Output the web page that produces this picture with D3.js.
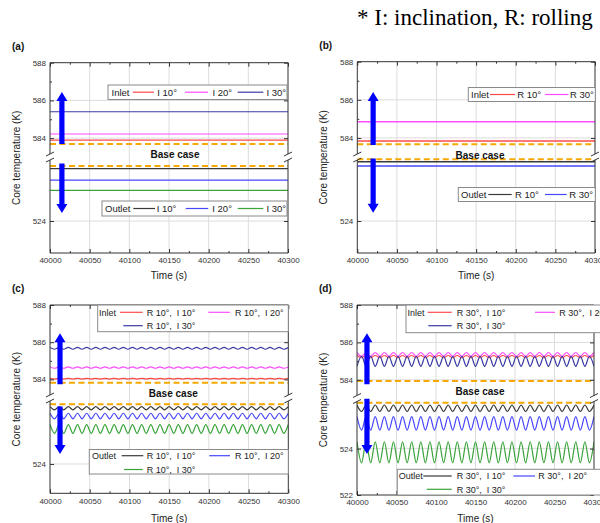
<!DOCTYPE html>
<html><head><meta charset="utf-8">
<script src="https://cdn.jsdelivr.net/npm/d3@7/dist/d3.min.js"></script>
<style>
body{margin:0;background:#fff;overflow:hidden}
svg{display:block}
text{font-family:"Liberation Sans",Arial,sans-serif}
</style>
</head><body>
<svg id="chart" width="600" height="523"></svg>
<script>
// ---------------- data ----------------
const timeDomain = [40000, 40300];
const timeTicks = [40000, 40050, 40100, 40150, 40200, 40250, 40300];
const timeMinor = [40025, 40075, 40125, 40175, 40225, 40275];
const topTicks = [584, 586, 588];
const topMinor = [583, 585, 587];
const botTicksABC = [524];
const botTicksD = [522, 524];
const timeEnds = [40000, 40300];

// times of successive peaks / troughs of the oscillations (s)
const tExt = [40000,40005.77,40011.54,40017.31,40023.08,40028.85,40034.62,40040.38,40046.15,40051.92,40057.69,40063.46,40069.23,40075,40080.77,40086.54,40092.31,40098.08,40103.85,40109.62,40115.38,40121.15,40126.92,40132.69,40138.46,40144.23,40150,40155.77,40161.54,40167.31,40173.08,40178.85,40184.62,40190.38,40196.15,40201.92,40207.69,40213.46,40219.23,40225,40230.77,40236.54,40242.31,40248.08,40253.85,40259.62,40265.38,40271.15,40276.92,40282.69,40288.46,40294.23,40300];

// (a) inclination only
const aLabels = ["I 10°", "I 20°", "I 30°"];
const aBase = [583.69, 527.44];
const aInlet = [583.90, 584.22, 585.40];
const aOutlet = [527.27, 526.56, 525.92];
// (b) rolling only
const bLabels = ["R 10°", "R 30°"];
const bBase = [583.67, 527.86];
const bInlet = [583.84, 584.85];
const bOutlet = [527.71, 527.44];
// (c) rolling 10° + inclination
const cLabels = ["R 10°,  I 10°", "R 10°,  I 20°", "R 10°,  I 30°"];
const cBase = [583.82, 528.07];
const cInR10I10 = [584.06,584.02,584.06,584.02,584.06,584.02,584.06,584.02,584.06,584.02,584.06,584.02,584.06,584.02,584.06,584.02,584.06,584.02,584.06,584.02,584.06,584.02,584.06,584.02,584.06,584.02,
584.06,584.02,584.06,584.02,584.06,584.02,584.06,584.02,584.06,584.02,584.06,584.02,584.06,584.02,584.06,584.02,584.06,584.02,584.06,584.02,584.06,584.02,584.06,584.02,584.06,584.02,584.06];
const cInR10I20 = [584.67,584.60,584.67,584.60,584.67,584.60,584.67,584.60,584.67,584.60,584.67,584.60,584.67,584.60,584.67,584.60,584.67,584.60,584.67,584.60,584.67,584.60,584.67,584.60,584.67,584.60,
584.67,584.60,584.67,584.60,584.67,584.60,584.67,584.60,584.67,584.60,584.67,584.60,584.67,584.60,584.67,584.60,584.67,584.60,584.67,584.60,584.67,584.60,584.67,584.60,584.67,584.60,584.67];
const cInR10I30 = [585.72,585.62,585.72,585.62,585.72,585.62,585.72,585.62,585.72,585.62,585.72,585.62,585.72,585.62,585.72,585.62,585.72,585.62,585.72,585.62,585.72,585.62,585.72,585.62,585.72,585.62,
585.72,585.62,585.72,585.62,585.72,585.62,585.72,585.62,585.72,585.62,585.72,585.62,585.72,585.62,585.72,585.62,585.72,585.62,585.72,585.62,585.72,585.62,585.72,585.62,585.72,585.62,585.72];
const cOutR10I10 = [527.91,527.69,527.91,527.69,527.91,527.69,527.91,527.69,527.91,527.69,527.91,527.69,527.91,527.69,527.91,527.69,527.91,527.69,527.91,527.69,527.91,527.69,527.91,527.69,527.91,527.69,
527.91,527.69,527.91,527.69,527.91,527.69,527.91,527.69,527.91,527.69,527.91,527.69,527.91,527.69,527.91,527.69,527.91,527.69,527.91,527.69,527.91,527.69,527.91,527.69,527.91,527.69,527.91];
const cOutR10I20 = [527.46,527.08,527.46,527.08,527.46,527.08,527.46,527.08,527.46,527.08,527.46,527.08,527.46,527.08,527.46,527.08,527.46,527.08,527.46,527.08,527.46,527.08,527.46,527.08,527.46,527.08,
527.46,527.08,527.46,527.08,527.46,527.08,527.46,527.08,527.46,527.08,527.46,527.08,527.46,527.08,527.46,527.08,527.46,527.08,527.46,527.08,527.46,527.08,527.46,527.08,527.46,527.08,527.46];
const cOutR10I30 = [526.69,526.09,526.69,526.09,526.69,526.09,526.69,526.09,526.69,526.09,526.69,526.09,526.69,526.09,526.69,526.09,526.69,526.09,526.69,526.09,526.69,526.09,526.69,526.09,526.69,526.09,
526.69,526.09,526.69,526.09,526.69,526.09,526.69,526.09,526.69,526.09,526.69,526.09,526.69,526.09,526.69,526.09,526.69,526.09,526.69,526.09,526.69,526.09,526.69,526.09,526.69,526.09,526.69];
// (d) rolling 30° + inclination
const dLabels = ["R 30°,  I 10°", "R 30°,  I 20°", "R 30°,  I 30°"];
const dBase = [583.94, 525.98];
const dInR30I10 = [585.30,585.18,585.30,585.18,585.30,585.18,585.30,585.18,585.30,585.18,585.30,585.18,585.30,585.18,585.30,585.18,585.30,585.18,585.30,585.18,585.30,585.18,585.30,585.18,585.30,585.18,
585.30,585.18,585.30,585.18,585.30,585.18,585.30,585.18,585.30,585.18,585.30,585.18,585.30,585.18,585.30,585.18,585.30,585.18,585.30,585.18,585.30,585.18,585.30,585.18,585.30,585.18,585.30];
const dInR30I20 = [585.46,585.26,585.46,585.26,585.46,585.26,585.46,585.26,585.46,585.26,585.46,585.26,585.46,585.26,585.46,585.26,585.46,585.26,585.46,585.26,585.46,585.26,585.46,585.26,585.46,585.26,
585.46,585.26,585.46,585.26,585.46,585.26,585.46,585.26,585.46,585.26,585.46,585.26,585.46,585.26,585.46,585.26,585.46,585.26,585.46,585.26,585.46,585.26,585.46,585.26,585.46,585.26,585.46];
const dInR30I30 = [584.72,585.26,584.72,585.26,584.72,585.26,584.72,585.26,584.72,585.26,584.72,585.26,584.72,585.26,584.72,585.26,584.72,585.26,584.72,585.26,584.72,585.26,584.72,585.26,584.72,585.26,
584.72,585.26,584.72,585.26,584.72,585.26,584.72,585.26,584.72,585.26,584.72,585.26,584.72,585.26,584.72,585.26,584.72,585.26,584.72,585.26,584.72,585.26,584.72,585.26,584.72,585.26,584.72];
const dOutR30I10 = [525.88,525.60,525.88,525.60,525.88,525.60,525.88,525.60,525.88,525.60,525.88,525.60,525.88,525.60,525.88,525.60,525.88,525.60,525.88,525.60,525.88,525.60,525.88,525.60,525.88,525.60,
525.88,525.60,525.88,525.60,525.88,525.60,525.88,525.60,525.88,525.60,525.88,525.60,525.88,525.60,525.88,525.60,525.88,525.60,525.88,525.60,525.88,525.60,525.88,525.60,525.88,525.60,525.88];
const dOutR30I20 = [525.38,524.80,525.38,524.80,525.38,524.80,525.38,524.80,525.38,524.80,525.38,524.80,525.38,524.80,525.38,524.80,525.38,524.80,525.38,524.80,525.38,524.80,525.38,524.80,525.38,524.80,
525.38,524.80,525.38,524.80,525.38,524.80,525.38,524.80,525.38,524.80,525.38,524.80,525.38,524.80,525.38,524.80,525.38,524.80,525.38,524.80,525.38,524.80,525.38,524.80,525.38,524.80,525.38];
const dOutR30I30 = [524.29,523.39,524.29,523.39,524.29,523.39,524.29,523.39,524.29,523.39,524.29,523.39,524.29,523.39,524.29,523.39,524.29,523.39,524.29,523.39,524.29,523.39,524.29,523.39,524.29,523.39,
524.29,523.39,524.29,523.39,524.29,523.39,524.29,523.39,524.29,523.39,524.29,523.39,524.29,523.39,524.29,523.39,524.29,523.39,524.29,523.39,524.29,523.39,524.29,523.39,524.29,523.39,524.29];

// arrows: [time, from, to] for the inlet (up) and outlet (down) arrows
const aArrows = [[40015, 583.69, 586.45], [40015, 527.6, 524.5]];
const bArrows = [[40020, 583.63, 586.41], [40020, 527.9, 524.52]];
const cArrows = [[40012.6, 583.74, 586.48], [40012.6, 527.92, 524.68]];
const dArrows = [[40012.6, 583.76, 586.49], [40012.6, 526.15, 523.77]];

// ---------------- styles ----------------
const COL = {red:"#ff4a4a", magenta:"#ff4dff", navy:"#3a3aa6", black:"#3a3a3a", blue:"#4646ff", green:"#3aa33a", base:"#f5a800", arrow:"#0000ff"};
const inColors = [COL.red, COL.magenta, COL.navy];
const outColors = [COL.black, COL.blue, COL.green];
const FONT = "'Liberation Sans',Arial,sans-serif";

const svg = d3.select("#chart");

svg.append("text").attr("x", 357).attr("y", 25)
  .style("font-family", "'Liberation Serif','Times New Roman',serif").style("font-size", "23px")
  .attr("fill", "#000").text("* I: inclination, R: rolling");

function flat(v) { return timeEnds.map(t => [t, v]); }
function wave(vals) { return d3.zip(tExt, vals); }

function drawPanel(p) {
  const g = svg.append("g");
  const x = d3.scaleLinear().domain(timeDomain).range([p.left, p.right]);
  const yT = d3.scaleLinear().domain(p.topDom).range([p.brk, p.top]);
  const yB = d3.scaleLinear().domain(p.botDom).range([p.bottom, p.brk]);

  // grid
  const grid = g.append("g").attr("stroke", "#dcdcdc").attr("stroke-width", 1);
  timeTicks.slice(1, -1).forEach(t => grid.append("line").attr("x1", x(t)).attr("x2", x(t)).attr("y1", p.top).attr("y2", p.bottom));
  topTicks.filter(v => v < p.topDom[1]).forEach(v => grid.append("line").attr("x1", p.left).attr("x2", p.right).attr("y1", yT(v)).attr("y2", yT(v)));
  p.botTicks.filter(v => v > p.botDom[0]).forEach(v => grid.append("line").attr("x1", p.left).attr("x2", p.right).attr("y1", yB(v)).attr("y2", yB(v)));

  const clipId = "clip" + p.name;
  svg.append("clipPath").attr("id", clipId).append("rect")
    .attr("x", p.left).attr("y", p.top).attr("width", p.right - p.left).attr("height", p.bottom - p.top);
  const plot = g.append("g").attr("clip-path", `url(#${clipId})`);

  const lineT = d3.line().x(d => x(d[0])).y(d => yT(d[1])).curve(d3.curveMonotoneX);
  const lineB = d3.line().x(d => x(d[0])).y(d => yB(d[1])).curve(d3.curveMonotoneX);

  // base case dashed
  plot.append("path").attr("d", lineT(flat(p.base[0]))).attr("stroke", COL.base).attr("stroke-width", 2).attr("stroke-dasharray", "6,3.5").attr("fill", "none");
  plot.append("path").attr("d", lineB(flat(p.base[1]))).attr("stroke", COL.base).attr("stroke-width", 2).attr("stroke-dasharray", "6,3.5").attr("fill", "none");

  p.outSeries.forEach((s, i) => plot.append("path").attr("d", lineB(s)).attr("stroke", outColors[i]).attr("stroke-width", p.sw || 1.2).attr("fill", "none"));
  p.inSeries.forEach((s, i) => plot.append("path").attr("d", lineT(s)).attr("stroke", inColors[i]).attr("stroke-width", p.sw || 1.2).attr("fill", "none"));

  // arrows
  const arrow = (t, y0, y1) => {
    const ax = x(t), dir = y1 < y0 ? -1 : 1, hl = 9, sw = 2.6, hw = 5.5;
    const yb = y1 - dir * hl;
    return `M${ax - sw},${y0}L${ax - sw},${yb}L${ax - hw},${yb}L${ax},${y1}L${ax + hw},${yb}L${ax + sw},${yb}L${ax + sw},${y0}Z`;
  };
  g.append("path").attr("d", arrow(p.arrows[0][0], yT(p.arrows[0][1]), yT(p.arrows[0][2]))).attr("fill", COL.arrow);
  g.append("path").attr("d", arrow(p.arrows[1][0], yB(p.arrows[1][1]), yB(p.arrows[1][2]))).attr("fill", COL.arrow);

  // base case label
  g.append("text").attr("x", p.baseLbl[0]).attr("y", p.baseLbl[1]).attr("text-anchor", "middle")
    .style("font-size", "10px").style("font-weight", "bold").attr("fill", "#111").text("Base case");

  // axes
  const styleAxis = sel => { sel.select(".domain").remove(); sel.selectAll("line").attr("stroke", "#333"); sel.selectAll("text").attr("fill", "#333").style("font-size", "8px").style("font-family", FONT); };
  const fmt = d3.format("d");
  g.append("g").attr("transform", `translate(0,${p.bottom})`)
    .call(d3.axisBottom(x).tickValues(timeTicks).tickSize(-4).tickPadding(4.8).tickFormat(fmt)).call(styleAxis);
  g.append("g").attr("transform", `translate(0,${p.bottom})`)
    .call(d3.axisBottom(x).tickValues(timeMinor).tickSize(-2).tickFormat("")).call(styleAxis);
  g.append("g").attr("transform", `translate(0,${p.top})`)
    .call(d3.axisTop(x).tickValues(timeTicks).tickSize(-4).tickFormat("")).call(styleAxis);
  g.append("g").attr("transform", `translate(0,${p.top})`)
    .call(d3.axisTop(x).tickValues(timeMinor).tickSize(-2).tickFormat("")).call(styleAxis);
  g.append("g").attr("transform", `translate(${p.left},0)`)
    .call(d3.axisLeft(yT).tickValues(topTicks).tickSize(-4).tickPadding(4).tickFormat(fmt)).call(styleAxis);
  g.append("g").attr("transform", `translate(${p.left},0)`)
    .call(d3.axisLeft(yT).tickValues(topMinor.filter(v => v > p.topDom[0])).tickSize(-2).tickFormat("")).call(styleAxis);
  g.append("g").attr("transform", `translate(${p.left},0)`)
    .call(d3.axisLeft(yB).tickValues(p.botTicks).tickSize(-4).tickPadding(4).tickFormat(fmt)).call(styleAxis);
  g.append("g").attr("transform", `translate(${p.right},0)`)
    .call(d3.axisRight(yT).tickValues(topTicks).tickSize(-4).tickFormat("")).call(styleAxis);
  g.append("g").attr("transform", `translate(${p.right},0)`)
    .call(d3.axisRight(yB).tickValues(p.botTicks).tickSize(-4).tickFormat("")).call(styleAxis);

  // frame with break
  const fr = g.append("g").attr("stroke", "#333").attr("stroke-width", 1).attr("fill", "none");
  fr.append("line").attr("x1", p.left).attr("x2", p.right).attr("y1", p.top).attr("y2", p.top);
  fr.append("line").attr("x1", p.left).attr("x2", p.right).attr("y1", p.bottom).attr("y2", p.bottom);
  [p.left, p.right].forEach(xx => {
    fr.append("line").attr("x1", xx).attr("x2", xx).attr("y1", p.top).attr("y2", p.brk - 3);
    fr.append("line").attr("x1", xx).attr("x2", xx).attr("y1", p.brk + 3).attr("y2", p.bottom);
    fr.append("line").attr("x1", xx - 4).attr("x2", xx + 4).attr("y1", p.brk - 1).attr("y2", p.brk - 5);
    fr.append("line").attr("x1", xx - 4).attr("x2", xx + 4).attr("y1", p.brk + 5).attr("y2", p.brk + 1);
  });

  // axis titles
  g.append("text").attr("transform", `translate(${p.left - 30},${(p.top + p.bottom) / 2}) rotate(-90)`)
    .attr("text-anchor", "middle").style("font-size", "10px").attr("fill", "#222").text("Core temperature (K)");
  g.append("text").attr("x", (p.left + p.right) / 2).attr("y", p.xTitleY).attr("text-anchor", "middle")
    .style("font-size", "10px").attr("fill", "#222").text("Time (s)");
  g.append("text").attr("x", p.left - 38).attr("y", p.top - 13).style("font-size", "10px").style("font-weight", "bold").attr("fill", "#111").text(p.tag);

  // legends
  p.legends.forEach(L => {
    g.append("rect").attr("x", L.box[0]).attr("y", L.box[1]).attr("width", L.box[2]).attr("height", L.box[3])
      .attr("fill", "#fff").attr("stroke", "#8a8a8a").attr("stroke-width", 1);
    g.append("text").attr("x", L.titleX).attr("y", L.rows[0] + 3.4).style("font-size", L.fs + "px").attr("fill", "#222").text(L.title);
    L.items.forEach((it, i) => {
      const ry = L.rows[it[3]];
      g.append("line").attr("x1", it[0]).attr("x2", it[1]).attr("y1", ry).attr("y2", ry).attr("stroke", L.colors[i]).attr("stroke-width", 1.2);
      g.append("text").attr("x", it[2]).attr("y", ry + 3.3).style("font-size", L.fs + "px").style("white-space", "pre").attr("fill", "#222").text(L.labels[i]);
    });
  });
}

drawPanel({
  name: "a", tag: "(a)", left: 50, right: 288, top: 62.7, bottom: 253, brk: 157,
  topDom: [583, 588], botDom: [522, 528], botTicks: botTicksABC, xTitleY: 279,
  base: aBase, baseLbl: [175, 158],
  inSeries: aInlet.map(flat), outSeries: aOutlet.map(flat), arrows: aArrows,
  legends: [
    {box: [108, 85, 179, 14.5], rows: [92.2], title: "Inlet", titleX: 111.5, fs: 9.5, labels: aLabels, colors: inColors,
     items: [[132.7, 154, 157.3, 0], [185, 208, 212.5, 0], [237.7, 263.3, 266.5, 0]]},
    {box: [102, 201, 185, 15], rows: [208.5], title: "Outlet", titleX: 105, fs: 9.5, labels: aLabels, colors: outColors,
     items: [[133.3, 155, 156.7, 0], [185.7, 208.3, 212.3, 0], [237.7, 263.3, 266.5, 0]]}
  ]
});
drawPanel({
  name: "b", tag: "(b)", left: 357.3, right: 595, top: 61.7, bottom: 253, brk: 157,
  topDom: [583, 588], botDom: [522, 528], botTicks: botTicksABC, xTitleY: 279, sw: 1.5,
  base: bBase, baseLbl: [480, 159],
  inSeries: bInlet.map(flat), outSeries: bOutlet.map(flat), arrows: bArrows,
  legends: [
    {box: [468.3, 87.5, 127, 14], rows: [94.5], title: "Inlet", titleX: 471, fs: 9.5, labels: bLabels, colors: [COL.red, COL.magenta],
     items: [[490, 515, 517.3, 0], [545, 568.3, 570, 0]]},
    {box: [458.3, 187.5, 137, 14], rows: [194.5], title: "Outlet", titleX: 461, fs: 9.5, labels: bLabels, colors: [COL.black, COL.blue],
     items: [[488.3, 511.7, 515, 0], [545, 566.7, 569.3, 0]]}
  ]
});
drawPanel({
  name: "c", tag: "(c)", left: 50, right: 288.3, top: 305, bottom: 493.3, brk: 398,
  topDom: [583, 588], botDom: [522, 528.5], botTicks: botTicksABC, xTitleY: 521.5,
  base: cBase, baseLbl: [173.3, 397],
  inSeries: [cInR10I10, cInR10I20, cInR10I30].map(wave), outSeries: [cOutR10I10, cOutR10I20, cOutR10I30].map(wave), arrows: cArrows,
  legends: [
    {box: [97.7, 305, 190.6, 26.7], rows: [312.3, 325.7], title: "Inlet", titleX: 99, fs: 9, labels: cLabels, colors: inColors,
     items: [[120, 142.7, 146.7, 0], [208.3, 230, 235, 0], [123.3, 142.7, 146.7, 1]]},
    {box: [89.3, 449.5, 199, 24.5], rows: [455.7, 469.5], title: "Outlet", titleX: 92, fs: 9, labels: cLabels, colors: outColors,
     items: [[121.7, 143.3, 146.7, 0], [209.3, 230, 235, 0], [124, 142.7, 146.7, 1]]}
  ]
});
drawPanel({
  name: "d", tag: "(d)", left: 357, right: 594, top: 305, bottom: 495, brk: 398.5,
  topDom: [583, 588], botDom: [522, 526.16], botTicks: botTicksD, xTitleY: 521.5,
  base: dBase, baseLbl: [480, 394.5],
  inSeries: [dInR30I10, dInR30I20, dInR30I30].map(wave), outSeries: [dOutR30I10, dOutR30I20, dOutR30I30].map(wave), arrows: dArrows,
  legends: [
    {box: [406, 305, 215, 27.7], rows: [312.3, 325.7], title: "Inlet", titleX: 407.5, fs: 9, labels: dLabels, colors: inColors,
     items: [[427.7, 451.7, 456.7, 0], [535, 555, 559.3, 0], [428.3, 451.7, 456.7, 1]]},
    {box: [397.3, 469.3, 205, 25.7], rows: [476, 489.3], title: "Outlet", titleX: 398.8, fs: 9, labels: dLabels, colors: outColors,
     items: [[423.3, 451.7, 456.7, 0], [513.3, 535, 538.3, 0], [426.7, 451.7, 456.7, 1]]}
  ]
});
</script>
</body></html>
